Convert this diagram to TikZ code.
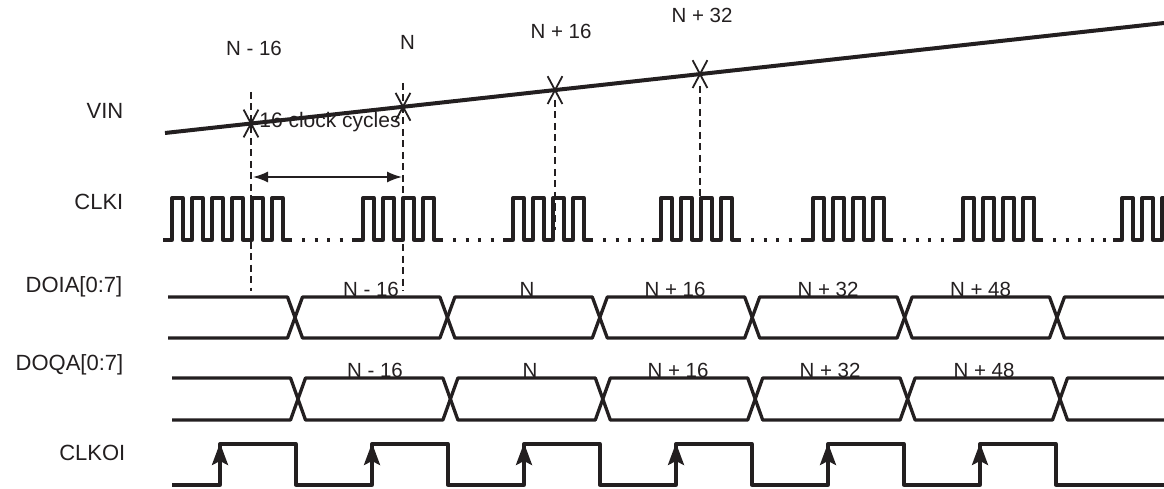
\documentclass[tikz,border=0pt]{standalone}
\usepackage{fontspec}
\setmainfont{Liberation Sans}
\usetikzlibrary{arrows.meta,shapes.misc}
\definecolor{ink}{RGB}{35,31,32}
\begin{document}
\begin{tikzpicture}[x=1pt,y=-1pt,
  sig/.style={draw=ink, line width=3.3pt, line join=round},
  vinline/.style={draw=ink, line width=4pt},
  guide/.style={draw=ink, line width=1.4pt, dash pattern=on 7pt off 4.5pt},
  dots/.style={draw=ink, line width=3.3pt, dash pattern=on 3.3pt off 9.2pt},
  xmark/.style={cross out, draw=ink, line width=1.8pt, minimum width=13pt, minimum height=26pt, inner sep=0pt},
  lbl/.style={font=\fontsize{22}{26}\selectfont, text=ink, inner sep=0pt},
  tlbl/.style={font=\fontsize{20.5}{24}\selectfont, text=ink, inner sep=0pt},
  dimarrow/.style={draw=ink, line width=1.6pt, {Latex[length=15pt,width=11pt]}-{Latex[length=15pt,width=11pt]}},
  clkarrow/.style={draw=ink, line width=3.3pt, -{Stealth[length=22pt,width=16pt,inset=4pt]}}
]
\useasboundingbox (0,0) rectangle (1164,489);
\clip (0,0) rectangle (1164,489);

% signal names
\node[lbl, anchor=base east] (lvin)  at (123.5,119) {VIN};
\node[lbl, anchor=base east] (lclki) at (123.5,209) {CLKI};
\node[lbl, anchor=base east] (ldoia) at (122.5,292) {DOIA[0:7]};
\node[lbl, anchor=base east] (ldoqa) at (123.5,370) {DOQA[0:7]};
\node[lbl, anchor=base east] (lclko) at (125.5,460) {CLKOI};

% sample labels
\node[tlbl, anchor=base] (s1) at (254,56) {N - 16};
\node[tlbl, anchor=base] (s2) at (407.5,50) {N};
\node[tlbl, anchor=base] (s3) at (561,39) {N + 16};
\node[tlbl, anchor=base] (s4) at (702,23) {N + 32};

% VIN ramp
\coordinate (v0) at (165,133);
\coordinate (v1) at (1164,23);
\draw[vinline] (v0) -- (v1);

% guide lines
\coordinate (g1t) at (251,92);  \coordinate (g1b) at (251,291);
\coordinate (g2t) at (403,83);  \coordinate (g2b) at (403,291);
\coordinate (g3t) at (555,100); \coordinate (g3b) at (555,230);
\coordinate (g4t) at (700,86);  \coordinate (g4b) at (700,216);
\draw[guide] (g1t) -- (g1b);
\draw[guide] (g2t) -- (g2b);
\draw[guide] (g3t) -- (g3b);
\draw[guide] (g4t) -- (g4b);

% crosses on the ramp
\node[xmark] (x1) at (251,123.5) {};
\node[xmark] (x2) at (403,106.8) {};
\node[xmark] (x3) at (555,90.1) {};
\node[xmark] (x4) at (700,74.1) {};

\node[tlbl, anchor=base, font=\fontsize{21}{24}\selectfont] (cc) at (330,128) {16 clock cycles};
\coordinate (a1) at (253,177);
\coordinate (a2) at (402,177);
\draw[dimarrow] (a1) -- (a2);

% CLKI pulse groups
\foreach \r/\n in {172/6,363/4,513/4,661/4,813/4,963/4,1122/3}{
  \draw[sig] (\r-9,240) -- (\r,240)
    \foreach \k in {1,...,\n}{ -- ++(0,-42) -- ++(11,0) -- ++(0,42) -- ++(9,0) };
}
\foreach \a/\b in {302/355,453/505,603/653,751/805,903/955,1053/1114}{
  \draw[dots] (\a,240) -- (\b,240);
}

% DOIA bus
\draw[sig] (168,297) -- (287.5,297) -- (302.5,338) -- (439.9,338) -- (454.9,297) -- (592.3,297) -- (607.3,338) -- (744.7,338) -- (759.7,297) -- (897.1,297) -- (912.1,338) -- (1049.5,338) -- (1064.5,297) -- (1164,297);
\draw[sig] (168,338) -- (287.5,338) -- (302.5,297) -- (439.9,297) -- (454.9,338) -- (592.3,338) -- (607.3,297) -- (744.7,297) -- (759.7,338) -- (897.1,338) -- (912.1,297) -- (1049.5,297) -- (1064.5,338) -- (1164,338);
\node[tlbl, anchor=base] (da1) at (371,296) {N - 16};
\node[tlbl, anchor=base] (da2) at (527,296) {N};
\node[tlbl, anchor=base] (da3) at (675,296) {N + 16};
\node[tlbl, anchor=base] (da4) at (828,296) {N + 32};
\node[tlbl, anchor=base] (da5) at (980.5,296) {N + 48};

% DOQA bus
\draw[sig] (172,378) -- (290.5,378) -- (305.5,420) -- (442.9,420) -- (457.9,378) -- (595.3,378) -- (610.3,420) -- (747.7,420) -- (762.7,378) -- (900.1,378) -- (915.1,420) -- (1052.5,420) -- (1067.5,378) -- (1164,378);
\draw[sig] (172,420) -- (290.5,420) -- (305.5,378) -- (442.9,378) -- (457.9,420) -- (595.3,420) -- (610.3,378) -- (747.7,378) -- (762.7,420) -- (900.1,420) -- (915.1,378) -- (1052.5,378) -- (1067.5,420) -- (1164,420);
\node[tlbl, anchor=base] (dq1) at (375,377) {N - 16};
\node[tlbl, anchor=base] (dq2) at (530,377) {N};
\node[tlbl, anchor=base] (dq3) at (678,377) {N + 16};
\node[tlbl, anchor=base] (dq4) at (830,377) {N + 32};
\node[tlbl, anchor=base] (dq5) at (984,377) {N + 48};

% CLKOI
\draw[sig] (172,485) -- (220,485) -- (220,444) -- (296,444) -- (296,485) -- (372,485) -- (372,444) -- (448,444) -- (448,485) -- (524,485) -- (524,444) -- (600,444) -- (600,485) -- (676,485) -- (676,444) -- (752,444) -- (752,485) -- (828,485) -- (828,444) -- (904,444) -- (904,485) -- (980,485) -- (980,444) -- (1056,444) -- (1056,485) -- (1164,485);
\foreach \x [count=\i] in {220,372,524,676,828,980}{
  \coordinate (e\i b) at (\x,485);
  \coordinate (e\i t) at (\x,443);
  \draw[clkarrow] (e\i b) -- (e\i t);
}
\end{tikzpicture}
\end{document}
